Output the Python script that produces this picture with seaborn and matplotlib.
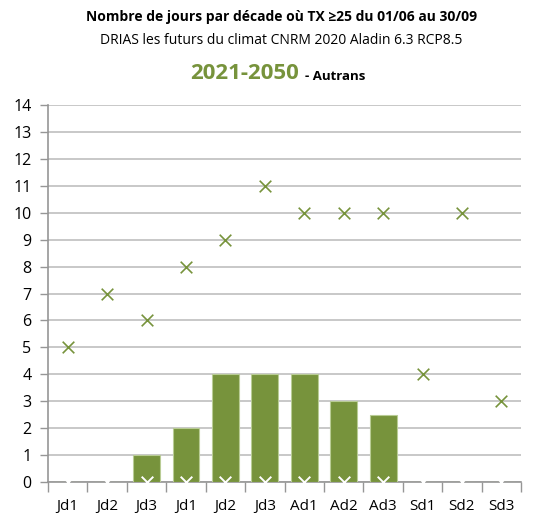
import numpy as np
import pandas as pd
import matplotlib
matplotlib.use("Agg")
import matplotlib.pyplot as plt
import seaborn as sns

# Decades from June to September
labels = ["Jd1", "Jd2", "Jd3", "Jd1", "Jd2", "Jd3", "Ad1", "Ad2", "Ad3", "Sd1", "Sd2", "Sd3"]
mean_days = [0, 0, 1, 2, 4, 4, 4, 3, 2.5, 0, 0, 0]
max_days = [5, 7, 6, 8, 9, 11, 10, 10, 10, 4, 10, 3]
min_days = [0, 0, 0, 0, 0, 0, 0, 0, 0, 0, 0, 0]

GREEN = "#77933C"
GRID = "#BFBFBF"
AXIS = "#969696"

sns.set_theme(style="white")
plt.rcParams["font.family"] = ["Open Sans", "DejaVu Sans"]

df = pd.DataFrame({"pos": np.arange(len(labels)), "label": labels,
                   "mean": mean_days, "max": max_days, "min": min_days})

fig = plt.figure(figsize=(5.52, 5.20), dpi=100)
ax = fig.add_axes([0.087, 0.073, 0.857, 0.725])

sns.barplot(data=df, x="pos", y="mean", color=GREEN, saturation=1, width=0.68,
            edgecolor="#B9CC95", linewidth=0.8, ax=ax, zorder=3)
sns.scatterplot(data=df, x="pos", y="max", marker="x", s=70, color=GREEN,
                linewidth=1.2, ax=ax, zorder=4)
sns.scatterplot(data=df, x="pos", y="min", marker="x", s=70, color="white",
                linewidth=1.4, ax=ax, zorder=5, clip_on=False)

ax.set_xlim(-0.5, len(labels) - 0.5)
ax.set_ylim(0, 14)
ax.set_yticks(range(0, 15))
ax.set_xticks(df["pos"])
ax.set_xticklabels(labels)
ax.set_xticks(np.arange(-0.5, len(labels), 1.0), minor=True)
ax.set_xlabel("")
ax.set_ylabel("")

ax.yaxis.grid(True, color=GRID, linewidth=1.2, zorder=0)
ax.set_axisbelow(True)
for side in ["top", "right"]:
    ax.spines[side].set_visible(False)
for side in ["left", "bottom"]:
    ax.spines[side].set_color(AXIS)
    ax.spines[side].set_linewidth(1.2)
    ax.spines[side].set_zorder(2)

ax.tick_params(axis="x", which="major", bottom=False, length=0, pad=12,
               labelsize=11, labelcolor="black")
ax.tick_params(axis="x", which="minor", bottom=True, length=7, width=1.0,
               color=AXIS, direction="out")
ax.tick_params(axis="y", which="major", left=True, length=6, width=1.0, color=AXIS,
               direction="out", labelsize=11.5, pad=6, labelcolor="black")

fig.text(0.51, 0.967, "Nombre de jours par décade où TX ≥25 du 01/06 au 30/09",
         ha="center", va="center", fontsize=10, fontweight="bold", color="black")
fig.text(0.51, 0.922, "DRIAS les futurs du climat CNRM 2020 Aladin 6.3 RCP8.5",
         ha="center", va="center", fontsize=10, color="black")
period = fig.text(0.345, 0.858, "2021-2050", ha="left", va="center", fontsize=16,
                  fontweight="bold", color=GREEN)
ax.annotate("- Autrans", xy=(1, 0.5), xycoords=period, xytext=(4, -2),
            textcoords="offset points", ha="left", va="center", fontsize=9.5,
            fontweight="bold", color="black", annotation_clip=False)

fig.savefig("out.png", dpi=100)
